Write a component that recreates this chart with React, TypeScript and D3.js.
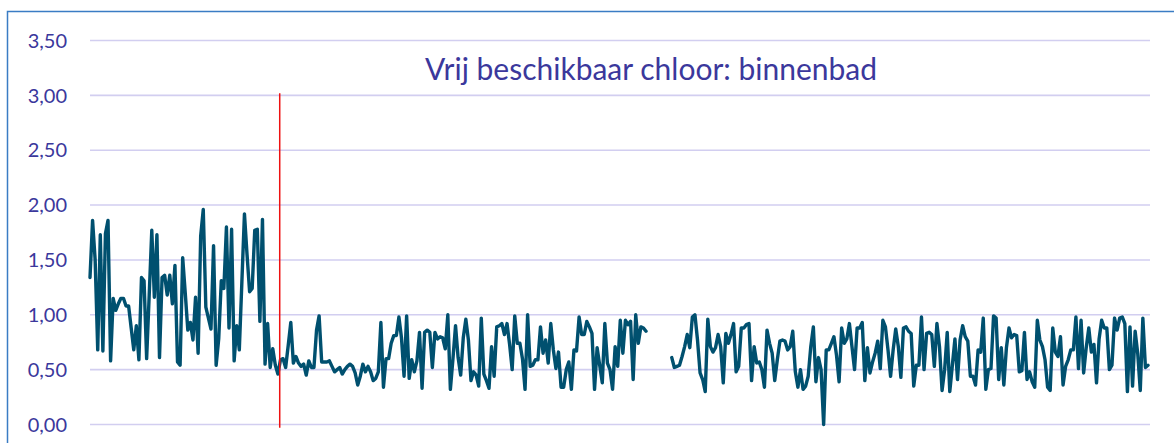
import React from "react";
import * as d3 from "d3";

const segA = [1.34, 1.86, 1.50, 0.68, 1.73, 0.67, 1.74, 1.86, 0.58, 1.15, 1.04, 1.10, 1.15, 1.15, 1.08, 1.08, 0.88, 0.68, 0.90, 0.59, 1.34, 1.31, 0.60, 1.18, 1.77, 1.16, 1.73, 0.61, 1.34, 1.36, 1.18, 1.36, 1.10, 1.45, 0.57, 0.54, 1.52, 1.20, 0.86, 0.93, 0.77, 1.16, 0.65, 1.72, 1.96, 1.07, 0.97, 0.87, 1.63, 0.54, 0.78, 1.31, 1.24, 1.80, 0.88, 1.78, 0.58, 0.90, 0.68, 1.30, 1.92, 1.55, 1.21, 1.24, 1.77, 1.78, 0.94, 1.87, 0.55, 0.92, 0.52, 0.69, 0.54, 0.46];
const segB = [0.59, 0.60, 0.52, 0.72, 0.93, 0.56, 0.62, 0.56, 0.53, 0.55, 0.45, 0.58, 0.52, 0.52, 0.86, 0.99, 0.57, 0.57, 0.57, 0.58, 0.53, 0.48, 0.50, 0.52, 0.46, 0.50, 0.53, 0.55, 0.53, 0.47, 0.36, 0.44, 0.55, 0.48, 0.53, 0.48, 0.40, 0.42, 0.48, 0.93, 0.34, 0.60, 0.60, 0.74, 0.81, 0.81, 0.98, 0.79, 0.44, 0.99, 0.42, 0.59, 0.48, 0.58, 0.84, 0.33, 0.84, 0.86, 0.84, 0.52, 0.84, 0.78, 0.80, 0.79, 0.69, 1.00, 0.32, 0.60, 0.90, 0.61, 0.45, 0.79, 0.96, 0.77, 0.40, 0.48, 0.45, 0.35, 0.97, 0.46, 0.40];
const segC = [0.33, 0.71, 0.44, 0.89, 0.90, 0.92, 0.82, 0.92, 0.73, 0.50, 0.99, 0.74, 0.74, 0.60, 0.32, 1.00, 0.53, 0.54, 0.59, 0.59, 0.89, 0.65, 0.77, 0.56, 0.92, 0.68, 0.51, 0.66, 0.34, 0.34, 0.50, 0.57, 0.32, 0.68, 0.67, 0.98, 0.82, 0.82, 0.94, 0.89, 0.83, 0.32, 0.70, 0.54, 0.38, 0.92, 0.56, 0.50, 0.32, 0.71, 0.53];
const segD = [0.95, 0.65, 0.95, 0.91, 0.94, 0.41, 1.00, 0.74, 0.89, 0.88, 0.85];
const gapLength = 9;
const segE = [0.61, 0.52, 0.53, 0.54, 0.62, 0.71, 0.82, 0.70, 0.98, 1.00, 0.77, 0.47, 0.41, 0.30, 0.96, 0.71, 0.66, 0.70, 0.82, 0.71, 0.38, 0.83, 0.74, 0.82, 0.92, 0.48, 0.53, 0.88, 0.88, 0.91, 0.92, 0.40, 0.71, 0.56, 0.57, 0.50, 0.34, 0.86, 0.74, 0.65, 0.40, 0.59, 0.76, 0.77, 0.76, 0.68, 0.71, 0.85, 0.48, 0.34, 0.50, 0.32, 0.35, 0.44, 0.71, 0.89, 0.39, 0.61, 0.50, 0.00, 0.68, 0.68, 0.74, 0.80, 0.63, 0.39, 0.88, 0.74, 0.78, 0.92, 0.71, 0.50, 0.88, 0.88, 0.93, 0.40, 0.70, 0.47, 0.57, 0.65, 0.76, 0.51, 0.95, 0.89, 0.68, 0.44];
const segF = [0.68, 0.87, 0.71, 0.43, 0.88, 0.89, 0.85, 0.83, 0.35, 0.54, 0.54, 0.98, 0.50, 0.83, 0.84, 0.82, 0.53, 0.92, 0.71, 0.31, 0.50, 0.84, 0.30, 0.54, 0.78, 0.41, 0.77, 0.90, 0.80, 0.76, 0.44, 0.44, 0.36, 0.68, 0.66, 0.97, 0.32, 0.50, 0.51, 0.99, 0.97, 0.41, 0.70, 0.36, 0.70, 0.88, 0.79, 0.82, 0.81, 0.48, 0.49, 0.84, 0.41, 0.48, 0.39, 0.34, 0.95, 0.77, 0.71, 0.59, 0.34, 0.31, 0.88, 0.66, 0.62, 0.80, 0.36, 0.53, 0.59, 0.68, 0.68, 0.98, 0.51, 0.95, 0.47, 0.70, 0.88, 0.66, 0.73, 0.38, 0.78, 0.95, 0.88, 0.88, 0.50, 0.54, 0.97, 0.86, 0.97, 0.98, 0.92, 0.30, 0.89, 0.35, 0.85, 0.65, 0.31, 0.97, 0.52, 0.54];

const values: (number | null)[] = [
  ...segA, ...segB, ...segC, ...segD,
  ...Array(gapLength).fill(null),
  ...segE, ...segF,
];

const yTicks = [0, 0.5, 1, 1.5, 2, 2.5, 3, 3.5];
const markerIndex = segA.length - 0.3; // red vertical marker
const markerRange = [-0.03, 3.02];
const title = "Vrij beschikbaar chloor: binnenbad";

const W = 1174;
const H = 443;
const FONT = "Lato, 'Open Sans', sans-serif";
const TEXT_COLOR = "#3B389C";

export default function App() {
  const x = d3.scaleLinear().domain([0, values.length - 1]).range([90, 1148]);
  const y = d3.scaleLinear().domain([0, 3.5]).range([424.5, 40.5]);
  const fmt = (v: number) => d3.format(".2f")(v).replace(".", ",");

  const line = d3
    .line<number | null>()
    .defined((d) => d !== null)
    .x((_, i) => x(i))
    .y((d) => y(d as number));

  return (
    <svg
      width={W}
      height={H}
      style={{ position: "absolute", left: 0, top: 0, background: "#fff" }}
    >
      <rect x={0} y={0} width={W} height={H} fill="#fff" />
      {/* border */}
      <path d={`M7.5,${H + 5} V11.5 H${W + 5}`} fill="none" stroke="#3A7CC4" strokeWidth={1.5} />
      {/* grid */}
      {yTicks.map((t) => (
        <line key={t} x1={90} x2={1150} y1={y(t)} y2={y(t)} stroke="#D2CEF0" strokeWidth={1.6} />
      ))}
      {/* tick labels */}
      {yTicks.map((t) => (
        <text
          key={"l" + t}
          x={67}
          y={y(t)}
          dy="0.36em"
          textAnchor="end"
          fontFamily={FONT}
          fontSize={20}
          fill={TEXT_COLOR}
        >
          {fmt(t)}
        </text>
      ))}
      {/* title */}
      <text
        x={651}
        y={80}
        textAnchor="middle"
        fontFamily={FONT}
        fontSize={30}
        fill={TEXT_COLOR}
      >
        {title}
      </text>
      {/* series */}
      <path
        d={line(values) || ""}
        fill="none"
        stroke="#00506F"
        strokeWidth={3.4}
        strokeLinejoin="round"
        strokeLinecap="round"
      />
      {/* marker */}
      <line
        x1={x(markerIndex)}
        x2={x(markerIndex)}
        y1={y(markerRange[1])}
        y2={y(markerRange[0])}
        stroke="#EE1111"
        strokeWidth={1.5}
      />
    </svg>
  );
}
